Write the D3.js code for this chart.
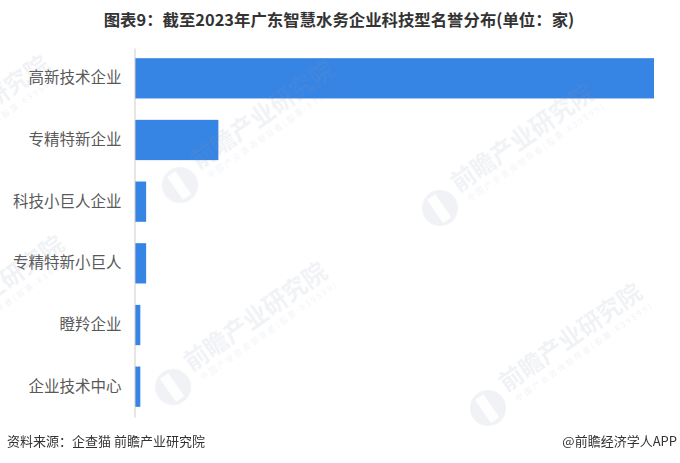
<!DOCTYPE html>
<html>
<head>
<meta charset="utf-8">
<script src="https://cdn.jsdelivr.net/npm/d3@7"></script>
<style>
  html, body { margin: 0; padding: 0; background: #fff; }
  svg { display: block; }
</style>
</head>
<body>
<svg id="chart" width="680" height="463"></svg>
<script>
const categories = ["高新技术企业", "专精特新企业", "科技小巨人企业", "专精特新小巨人", "瞪羚企业", "企业技术中心"];
const values = [446, 72, 10, 10, 5, 5];
const titleText = "图表9：截至2023年广东智慧水务企业科技型名誉分布(单位：家)";
const sourceText = "资料来源：企查猫 前瞻产业研究院";
const brandText = "@前瞻经济学人APP";
const watermarkText = "前瞻产业研究院";
const watermarkSub = "中国产业咨询领导者(股票:839599)";

const font = "'Noto Sans CJK SC', 'Noto Sans', sans-serif";
const svg = d3.select("#chart");
const W = 680, H = 463;
const margin = { left: 134.5, right: 26, top: 48, bottom: 46 };

const x = d3.scaleLinear()
  .domain([0, d3.max(values)])
  .range([margin.left, W - margin.right]);

const y = d3.scaleBand()
  .domain(categories)
  .range([margin.top, H - margin.bottom])
  .paddingInner(0.347)
  .paddingOuter(0.165);

// Title
svg.append("text")
  .attr("x", 339)
  .attr("y", 26)
  .attr("text-anchor", "middle")
  .attr("font-family", font)
  .attr("font-weight", "bold")
  .attr("font-size", 16.4)
  .attr("fill", "#333333")
  .text(titleText);

// Bars
svg.append("g").selectAll("rect")
  .data(categories)
  .join("rect")
  .attr("x", x(0) + 0.5)
  .attr("y", d => y(d))
  .attr("width", (d, i) => x(values[i]) - x(0) - 0.5)
  .attr("height", y.bandwidth())
  .attr("fill", "#3684E4");

// Y axis
const yAxis = d3.axisLeft(y).tickSize(0).tickPadding(13);
const gy = svg.append("g")
  .attr("transform", `translate(${margin.left},0)`)
  .call(yAxis);
gy.select(".domain").attr("stroke", "#cccccc").attr("stroke-width", 1);
gy.selectAll("text")
  .attr("font-family", font)
  .attr("font-size", 15.5)
  .attr("fill", "#595959");

// Watermarks (decorative)
const wmPositions = [[180, 185], [440, 208], [173, 387], [488, 408], [-105, 180], [-90, 360]];
const wm = svg.append("g").attr("pointer-events", "none").attr("opacity", 0.13);
wmPositions.forEach(p => {
  const g = wm.append("g").attr("transform", `translate(${p[0]},${p[1]}) rotate(-35)`);
  g.append("circle").attr("r", 18).attr("fill", "#8c9cb8");
  g.append("path")
    .attr("d", "M-6,-14 L4,-14 L4,14 L-6,14 Z")
    .attr("fill", "#ffffff").attr("opacity", 0.9);
  g.append("text")
    .attr("x", 24).attr("y", -2)
    .attr("font-family", font).attr("font-weight", "bold")
    .attr("font-size", 24).attr("fill", "#8c9cb8")
    .text(watermarkText);
  g.append("text")
    .attr("x", 28).attr("y", 12)
    .attr("font-family", font)
    .attr("font-size", 8).attr("letter-spacing", 2.2).attr("fill", "#8c9cb8")
    .text(watermarkSub);
});

// Footer
svg.append("text")
  .attr("x", 7)
  .attr("y", 446)
  .attr("font-family", font)
  .attr("font-size", 13)
  .attr("fill", "#333333")
  .text(sourceText);
svg.append("text")
  .attr("x", 677)
  .attr("y", 446)
  .attr("text-anchor", "end")
  .attr("font-family", font)
  .attr("font-size", 13)
  .attr("fill", "#333333")
  .text(brandText);
</script>
</body>
</html>
